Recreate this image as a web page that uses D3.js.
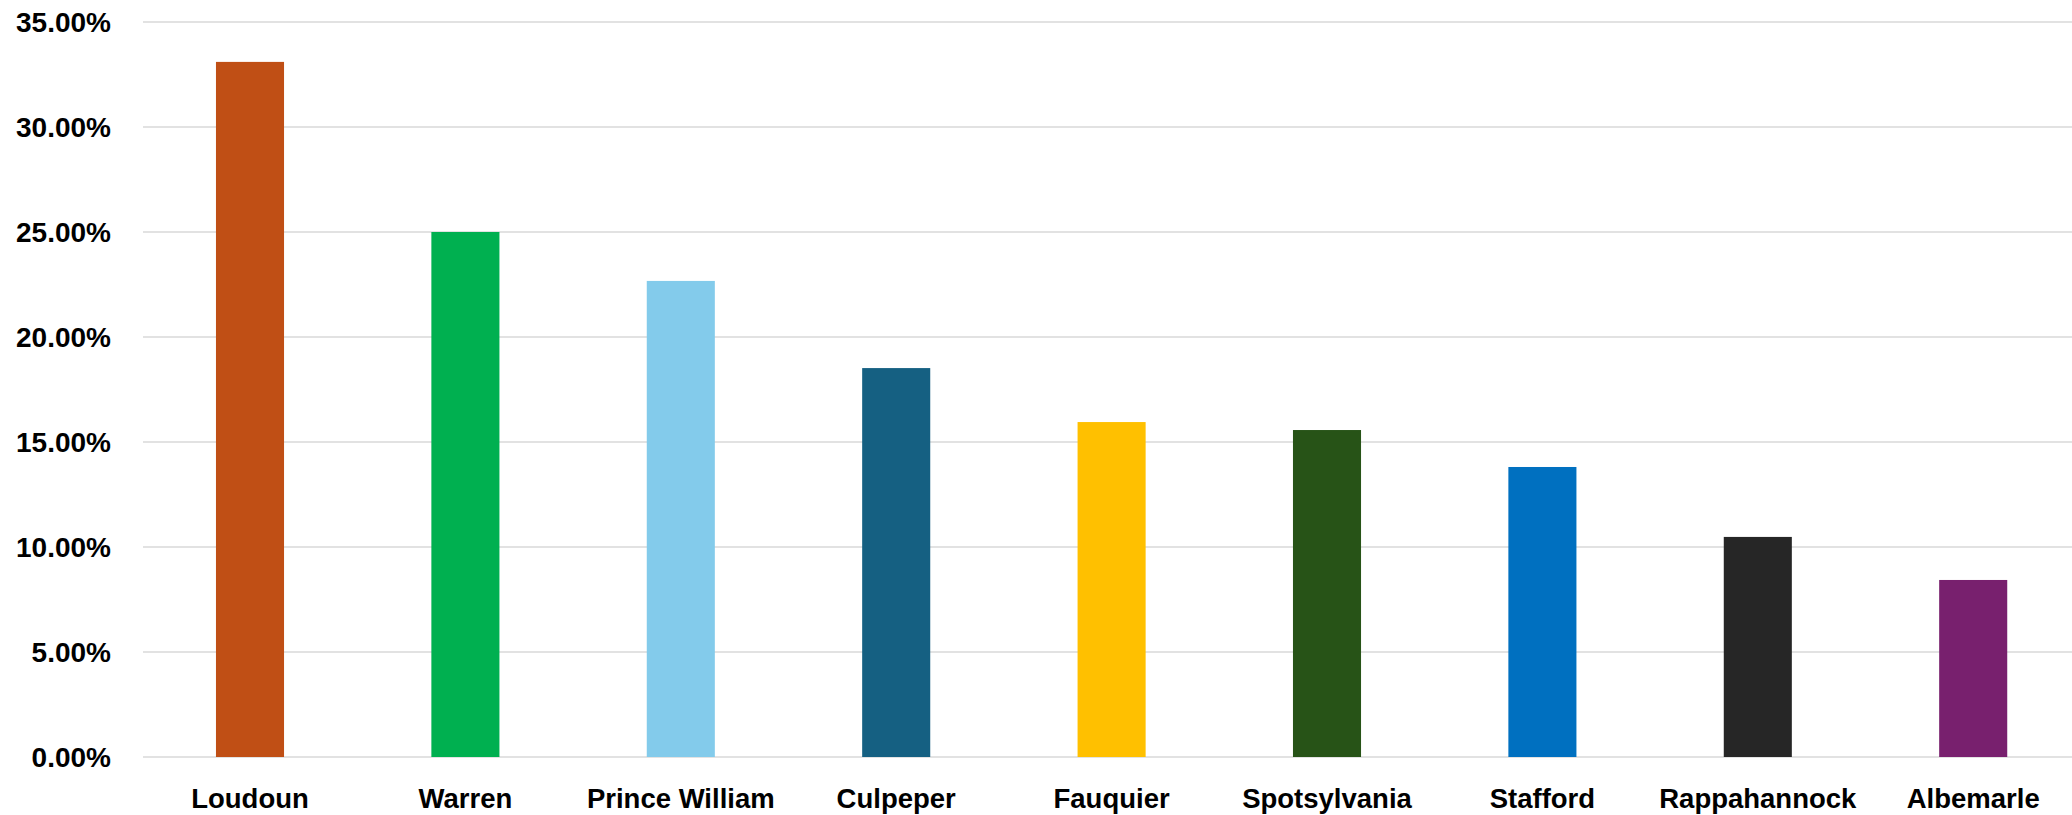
<!DOCTYPE html>
<html>
<head>
<meta charset="utf-8">
<script src="https://cdn.jsdelivr.net/npm/d3@7"></script>
<style>
html, body { margin: 0; padding: 0; background: #ffffff; }
svg { display: block; }
</style>
</head>
<body>
<svg id="chart" width="2072" height="815"></svg>
<script>
const categories = ["Loudoun", "Warren", "Prince William", "Culpeper", "Fauquier", "Spotsylvania", "Stafford", "Rappahannock", "Albemarle"];
const values = [0.3310, 0.2500, 0.2267, 0.1852, 0.1595, 0.1557, 0.1381, 0.1048, 0.0843];
const barColors = ["#C04F15", "#00B050", "#83CBEB", "#156082", "#FFC000", "#275317", "#0070C0", "#262626", "#78206E"];
const yTicks = [0, 0.05, 0.10, 0.15, 0.20, 0.25, 0.30, 0.35];

const svg = d3.select("#chart");
const W = 2072, H = 815;
const plotLeft = 142.3, plotRight = 2080.9, plotTop = 22, plotBottom = 757;

const x = d3.scaleBand()
  .domain(categories)
  .range([plotLeft, plotRight])
  .paddingInner(0.684)
  .paddingOuter(0.342);

const y = d3.scaleLinear()
  .domain([0, 0.35])
  .range([plotBottom, plotTop]);

const fontFamily = "'Liberation Sans', Arial, sans-serif";

// gridlines
svg.append("g")
  .selectAll("line")
  .data(yTicks)
  .join("line")
  .attr("x1", 143)
  .attr("x2", W)
  .attr("y1", d => y(d))
  .attr("y2", d => y(d))
  .attr("stroke", "#d9d9d9")
  .attr("stroke-width", 1.5);

// y axis labels
const fmt = d3.format(".2%");
svg.append("g")
  .selectAll("text")
  .data(yTicks)
  .join("text")
  .attr("x", 111)
  .attr("y", d => y(d))
  .attr("dy", "0.36em")
  .attr("text-anchor", "end")
  .attr("font-family", fontFamily)
  .attr("font-weight", "bold")
  .attr("font-size", 28)
  .attr("fill", "#000")
  .text(d => fmt(d));

// bars
svg.append("g")
  .selectAll("rect")
  .data(categories)
  .join("rect")
  .attr("x", d => x(d))
  .attr("width", x.bandwidth())
  .attr("y", (d, i) => y(values[i]))
  .attr("height", (d, i) => y(0) - y(values[i]))
  .attr("fill", (d, i) => barColors[i]);

// x labels
svg.append("g")
  .selectAll("text")
  .data(categories)
  .join("text")
  .attr("x", d => x(d) + x.bandwidth() / 2)
  .attr("y", 808)
  .attr("text-anchor", "middle")
  .attr("font-family", fontFamily)
  .attr("font-weight", "bold")
  .attr("font-size", 27.5)
  .attr("fill", "#000")
  .text(d => d);
</script>
</body>
</html>
